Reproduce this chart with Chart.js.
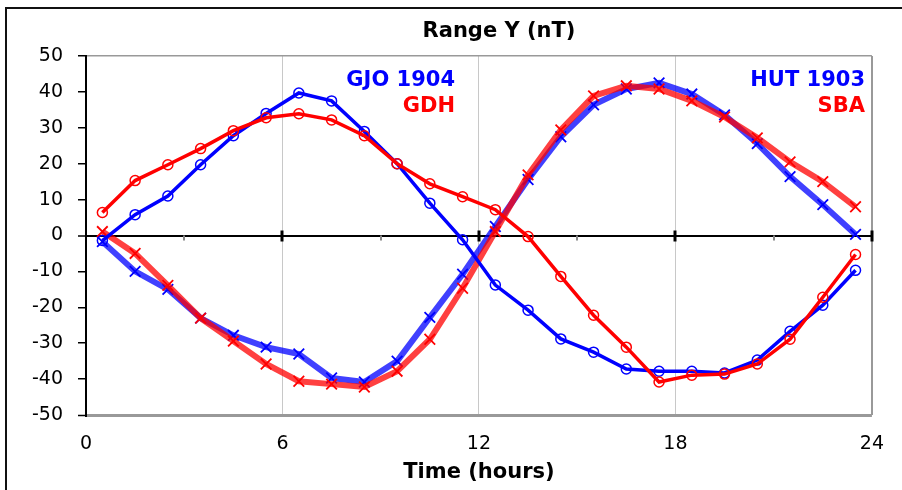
<!DOCTYPE html>
<html>
<head>
<meta charset="utf-8">
<script src="https://cdn.jsdelivr.net/npm/chart.js@4.4.0/dist/chart.umd.min.js"></script>
<style>
  body { margin: 0; background: #fff; }
  #chart { display: block; }
</style>
</head>
<body>
<canvas id="chart" width="902" height="490"></canvas>
<script>
// hours (mid-hour samples)
const hours = [0.5, 1.5, 2.5, 3.5, 4.5, 5.5, 6.5, 7.5, 8.5, 9.5, 10.5, 11.5,
  12.5, 13.5, 14.5, 15.5, 16.5, 17.5, 18.5, 19.5, 20.5, 21.5, 22.5, 23.5];

// range Y in nT
const gjo1904 = [-1.4, 5.8, 11, 19.7, 27.8, 34, 39.7, 37.5, 29, 20, 9, -1.2,
  -13.8, -20.8, -28.8, -32.5, -37.2, -37.8, -37.8, -38.3, -34.7, -26.7, -19.4, -9.7];
const gdh = [6.4, 15.3, 19.7, 24.2, 29.2, 32.8, 33.9, 32.2, 27.8, 20, 14.4, 10.8,
  7.2, -0.3, -11.4, -22.2, -31.1, -40.8, -38.9, -38.6, -35.8, -28.9, -17.2, -5.3];
const hut1903 = [-1.7, -10, -15, -23, -27.8, -31.1, -33, -39.7, -40.8, -35, -22.8, -10.8,
  2.5, 15.6, 27.5, 36.4, 40.8, 42.5, 39.4, 33.6, 25.6, 16.4, 8.6, 0.3];
const sba = [1.1, -5, -13.9, -23, -29.4, -35.8, -40.6, -41.4, -42.2, -37.8, -28.9, -14.7,
  1.1, 16.9, 29.4, 38.9, 41.7, 40.8, 37.5, 33, 27.2, 20.5, 15, 8];

const xTicks = [0, 6, 12, 18, 24];
const yTicks = [-50, -40, -30, -20, -10, 0, 10, 20, 30, 40, 50];

const FONT = "'DejaVu Sans', 'Liberation Sans', sans-serif";

function pts(vals) {
  return hours.map((h, i) => ({ x: h, y: vals[i] }));
}

// frame, title, ticks on the zero line and the station labels
const decor = {
  id: "decor",
  beforeDatasetsDraw(chart) {
    const ctx = chart.ctx;
    const xs = chart.scales.x, ys = chart.scales.y;
    const y0 = ys.getPixelForValue(0);
    ctx.save();
    // minor ticks
    ctx.strokeStyle = "#888";
    ctx.lineWidth = 2;
    [3, 9, 15, 21].forEach(v => {
      const x = Math.round(xs.getPixelForValue(v));
      ctx.beginPath(); ctx.moveTo(x, y0); ctx.lineTo(x, y0 + 5); ctx.stroke();
    });
    // major ticks
    ctx.strokeStyle = "#000";
    ctx.lineWidth = 3;
    [6, 12, 18, 24].forEach(v => {
      const x = Math.round(xs.getPixelForValue(v));
      ctx.beginPath(); ctx.moveTo(x, y0 - 5); ctx.lineTo(x, y0 + 6); ctx.stroke();
    });
    ctx.restore();
  },
  afterDraw(chart) {
    const ctx = chart.ctx;
    ctx.save();
    ctx.strokeStyle = "#111";
    ctx.lineWidth = 2;
    ctx.beginPath();
    ctx.moveTo(6, 490); ctx.lineTo(6, 8); ctx.lineTo(902, 8);
    ctx.stroke();

    ctx.fillStyle = "#000";
    ctx.textAlign = "center";
    ctx.textBaseline = "alphabetic";
    ctx.font = "bold 21px " + FONT;
    ctx.fillText("Range Y (nT)", 499, 37);

    ctx.textAlign = "right";
    ctx.fillStyle = "#0000ff";
    ctx.fillText("GJO 1904", 455, 86);
    ctx.fillText("HUT 1903", 865, 86);
    ctx.fillStyle = "#ff0000";
    ctx.fillText("GDH", 455, 112);
    ctx.fillText("SBA", 865, 112);
    ctx.restore();
  }
};

new Chart(document.getElementById("chart"), {
  type: "line",
  data: {
    datasets: [
      {
        label: "GDH", data: pts(gdh), order: 1,
        borderColor: "#ff0000", borderWidth: 3.5,
        pointStyle: "circle", pointRadius: 5, pointBorderWidth: 1.5,
        pointBorderColor: "#ff0000", pointBackgroundColor: "rgba(0,0,0,0)"
      },
      {
        label: "GJO 1904", data: pts(gjo1904), order: 2,
        borderColor: "#0000ff", borderWidth: 3.5,
        pointStyle: "circle", pointRadius: 5, pointBorderWidth: 1.5,
        pointBorderColor: "#0000ff", pointBackgroundColor: "rgba(0,0,0,0)"
      },
      {
        label: "SBA", data: pts(sba), order: 3,
        borderColor: "rgba(255,0,0,0.75)", borderWidth: 6,
        pointStyle: "crossRot", pointRadius: 7.5, pointBorderWidth: 1.8,
        pointBorderColor: "#ff0000"
      },
      {
        label: "HUT 1903", data: pts(hut1903), order: 4,
        borderColor: "rgba(0,0,255,0.75)", borderWidth: 6,
        pointStyle: "crossRot", pointRadius: 7.5, pointBorderWidth: 1.8,
        pointBorderColor: "#0000ff"
      }
    ]
  },
  options: {
    responsive: false,
    animation: false,
    layout: { padding: { left: 0, right: 29, top: 56, bottom: 0 } },
    plugins: {
      legend: { display: false },
      tooltip: { enabled: false },
      title: { display: false }
    },
    scales: {
      x: {
        type: "linear",
        min: 0, max: 24,
        afterBuildTicks: s => { s.ticks = xTicks.map(v => ({ value: v })); },
        afterFit: s => { s.height = 75; },
        ticks: { color: "#000", padding: 18, font: { family: FONT, size: 19 } },
        grid: {
          drawTicks: false,
          color: c => c.tick.value === 0 ? "rgba(0,0,0,0)" : (c.tick.value === 24 ? "#999" : "#c8c8c8"),
          lineWidth: c => c.tick.value === 24 ? 2 : 1
        },
        border: { display: false },
        title: {
          display: true,
          text: "Time (hours)",
          color: "#000",
          font: { family: FONT, size: 21, weight: "bold", lineHeight: 1.2 },
          padding: { top: 0, bottom: 5 }
        }
      },
      y: {
        min: -50, max: 50,
        afterBuildTicks: s => { s.ticks = yTicks.map(v => ({ value: v })); },
        afterFit: s => { s.width = 86; },
        ticks: { color: "#000", padding: 15, font: { family: FONT, size: 19 } },
        grid: {
          drawTicks: true,
          tickLength: 8,
          tickColor: "#000",
          tickWidth: 1.5,
          color: c => c.tick.value === 0 ? "#000" : (Math.abs(c.tick.value) === 50 ? "#999" : "rgba(0,0,0,0)"),
          lineWidth: c => c.tick.value === 0 ? 2 : (c.tick.value === -50 ? 3 : 1.5)
        },
        border: { display: true, color: "#000", width: 2 }
      }
    }
  },
  plugins: [decor]
});
</script>
</body>
</html>
